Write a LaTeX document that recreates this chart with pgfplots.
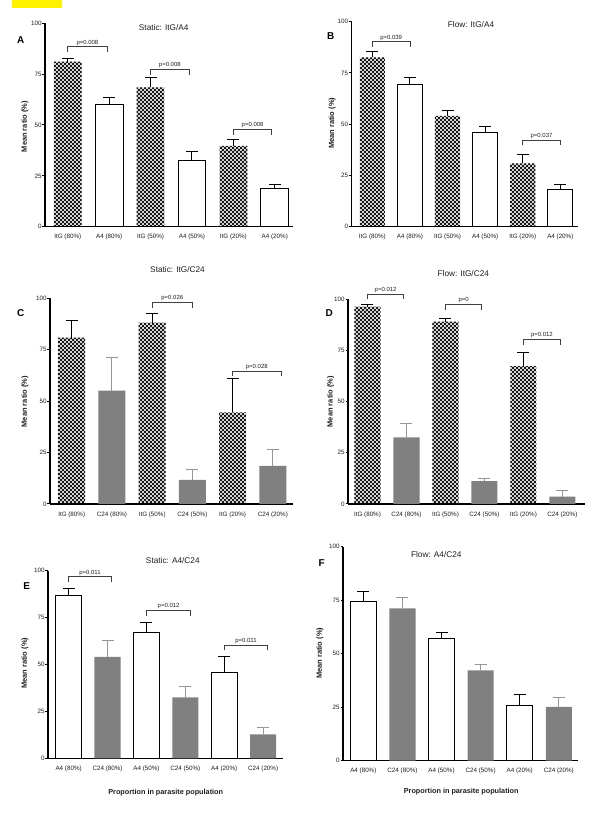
\documentclass[border=0pt]{standalone}
\usepackage{fontspec}
\setmainfont{Liberation Sans}
\usepackage{pgfplots}
\pgfplotsset{compat=1.18}
\usetikzlibrary{patterns}

\pgfdeclarepatternformonly{ckdots}{\pgfqpoint{-1bp}{-1bp}}{\pgfqpoint{5bp}{5bp}}{\pgfqpoint{4bp}{4bp}}{%
 \pgfpathcircle{\pgfqpoint{1bp}{1bp}}{1.3bp}%
 \pgfpathcircle{\pgfqpoint{3bp}{3bp}}{1.3bp}%
 \pgfusepath{fill}}

\definecolor{barg}{RGB}{128,128,128}
\definecolor{errg}{RGB}{150,150,150}
\definecolor{txt}{RGB}{30,30,30}

\pgfplotsset{
 panel/.style={
  scale only axis, clip=false,
  axis x line*=bottom, axis y line*=left,
  axis line style={line width=1.2bp,-},
  ymin=0, ymax=100, ytick={0,25,50,75,100},
  xtick={0,1,2,3,4,5},
  y tick style={line width=1bp, black},
  x tick style={draw=none},
  major tick length=2.5bp, tick align=outside,
  tick label style={font=\fontsize{6.3}{7}\selectfont, text=txt},
  xticklabel style={yshift=-1.5bp},
  yticklabel style={inner sep=0.8bp},
  /pgf/number format/assume math mode=true,
  bar width=0.67,
 },
 pat/.style={ybar, bar shift=0pt, pattern=ckdots, pattern color=black, draw=none,
   error bars/.cd, y dir=plus, y explicit,
   error bar style={line width=1bp, black, solid},
   error mark options={rotate=90, line width=1bp, black, mark size=6bp}},
 wht/.style={ybar, bar shift=0pt, fill=white, draw=black, line width=1bp,
   error bars/.cd, y dir=plus, y explicit,
   error bar style={line width=1bp, black, solid},
   error mark options={rotate=90, line width=1bp, black, mark size=6bp}},
 gry/.style={ybar, bar shift=0pt, fill=barg, draw=none,
   error bars/.cd, y dir=plus, y explicit,
   error bar style={line width=1bp, errg, solid},
   error mark options={rotate=90, line width=1bp, errg, mark size=6bp}},
}
\tikzset{pb/.style={line width=0.8bp, draw=black!75},
 ptxt/.style={font=\fontsize{6}{7}\selectfont, text=txt, anchor=south, inner sep=1.2bp},
 ttl/.style={font=\fontsize{8.3}{9}\selectfont, text=txt},
 lett/.style={font=\fontsize{10}{11}\selectfont\bfseries, text=black},
 ylab/.style={font=\fontsize{7.5}{8}\selectfont\bfseries, text=txt, rotate=90},
 xlab/.style={font=\fontsize{7.3}{8}\selectfont\bfseries, text=txt}}

% \pbr{x1}{x2}{mid}{y}{text}
\newcommand{\pbr}[5]{%
 \draw[pb] ([yshift=-5.5bp]axis cs:#1,#4) -- (axis cs:#1,#4) -- (axis cs:#2,#4) -- ([yshift=-5.5bp]axis cs:#2,#4);
 \node[ptxt] at (axis cs:#3,#4) {#5};}

\begin{document}
\begin{tikzpicture}
\useasboundingbox (0,0) rectangle (600bp,813bp);
\fill[yellow] (12bp,805bp) rectangle (62bp,813bp);

% Panel A
\begin{axis}[panel, at={(45bp,586.3bp)}, width=248bp, height=203.4bp,
  xmin=-0.55, xmax=5.44,
  xticklabels={ItG (80\%), A4 (80\%), ItG (50\%), A4 (50\%), ItG (20\%), A4 (20\%)}]
\addplot[pat] coordinates {(0,81.1) +- (0,1.7) (2,68.5) +- (0,4.8) (4,39.7) +- (0,3.3)};
\addplot[wht] coordinates {(1,60.2) +- (0,3.2) (3,32.3) +- (0,4.9) (5,18.9) +- (0,1.9)};
\pbr{0}{0.95}{0.475}{88.5}{p=0.008}
\pbr{2}{2.93}{2.465}{77.4}{p=0.008}
\pbr{4}{4.93}{4.465}{47.9}{p=0.008}
\end{axis}

% Panel B
\begin{axis}[panel, at={(351.7bp,586.3bp)}, width=226.3bp, height=205bp,
  xmin=-0.55, xmax=5.47,
  xticklabels={ItG (80\%), A4 (80\%), ItG (50\%), A4 (50\%), ItG (20\%), A4 (20\%)}]
\addplot[pat] coordinates {(0,82.6) +- (0,2.8) (2,54) +- (0,2.9) (4,30.9) +- (0,4.1)};
\addplot[wht] coordinates {(1,69.4) +- (0,3.4) (3,46) +- (0,3.1) (5,17.9) +- (0,2.9)};
\pbr{0}{1}{0.5}{90.2}{p=0.039}
\pbr{4}{5}{4.5}{42.3}{p=0.037}
\end{axis}

% Panel C
\begin{axis}[panel, at={(50bp,309bp)}, width=243bp, height=205.7bp,
  xmin=-0.54, xmax=5.5,
  xticklabels={ItG (80\%), C24 (80\%), ItG (50\%), C24 (50\%), ItG (20\%), C24 (20\%)}]
\addplot[pat] coordinates {(0,80.9) +- (0,8.1) (2,88.2) +- (0,4.5) (4,44.6) +- (0,16.5)};
\addplot[gry] coordinates {(1,55.1) +- (0,16.2) (3,11.7) +- (0,5.0) (5,18.5) +- (0,7.8)};
\pbr{2}{3}{2.5}{98}{p=0.026}
\pbr{4}{5.2}{4.6}{64.7}{p=0.028}
\end{axis}

% Panel D
\begin{axis}[panel, at={(348bp,309bp)}, width=237bp, height=204.7bp,
  xmin=-0.5, xmax=5.58,
  xticklabels={ItG (80\%), C24 (80\%), ItG (50\%), C24 (50\%), ItG (20\%), C24 (20\%)}]
\addplot[pat] coordinates {(0,96.4) +- (0,1.1) (2,89.1) +- (0,1.6) (4,67.4) +- (0,6.7)};
\addplot[gry] coordinates {(1,32.6) +- (0,6.8) (3,11.2) +- (0,1.3) (5,3.6) +- (0,2.8)};
\pbr{0}{0.93}{0.465}{102.6}{p=0.012}
\pbr{2}{2.93}{2.465}{97.5}{p=0}
\pbr{4}{4.95}{4.475}{80.5}{p=0.012}
\end{axis}

% Panel E
\begin{axis}[panel, at={(48bp,54.7bp)}, width=235bp, height=187.6bp,
  xmin=-0.53, xmax=5.51,
  xticklabels={A4 (80\%), C24 (80\%), A4 (50\%), C24 (50\%), A4 (20\%), C24 (20\%)}]
\addplot[wht] coordinates {(0,86.7) +- (0,3.9) (2,67) +- (0,5.6) (4,45.6) +- (0,8.8)};
\addplot[gry] coordinates {(1,54) +- (0,8.9) (3,32.5) +- (0,6.0) (5,12.8) +- (0,3.7)};
\pbr{0}{1.1}{0.55}{96.8}{p=0.011}
\pbr{2}{3.14}{2.57}{78.9}{p=0.012}
\pbr{4}{5.12}{4.56}{60.4}{p=0.011}
\end{axis}

% Panel F
\begin{axis}[panel, at={(343bp,52.3bp)}, width=235bp, height=214bp,
  xmin=-0.52, xmax=5.49,
  xticklabels={A4 (80\%), C24 (80\%), A4 (50\%), C24 (50\%), A4 (20\%), C24 (20\%)}]
\addplot[wht] coordinates {(0,74.6) +- (0,4.4) (2,57.3) +- (0,2.7) (4,25.9) +- (0,5.1)};
\addplot[gry] coordinates {(1,71.2) +- (0,5.1) (3,42.2) +- (0,2.8) (5,25.1) +- (0,4.5)};
\end{axis}

% titles
\node[ttl] at (163.7bp,785bp) {Static: ItG/A4};
\node[ttl] at (471bp,788.7bp) {Flow: ItG/A4};
\node[ttl] at (177.5bp,543.7bp) {Static: ItG/C24};
\node[ttl] at (463.3bp,539bp) {Flow: ItG/C24};
\node[ttl] at (172.8bp,252bp) {Static: A4/C24};
\node[ttl] at (436.3bp,258.7bp) {Flow: A4/C24};
% letters
\node[lett] at (20.7bp,773bp) {A};
\node[lett] at (330.7bp,777bp) {B};
\node[lett] at (20.7bp,499.7bp) {C};
\node[lett] at (329.3bp,499.7bp) {D};
\node[lett] at (26.7bp,227bp) {E};
\node[lett] at (321.7bp,249.7bp) {F};
% y labels
\node[ylab] at (25bp,686.3bp) {Mean ratio (\%)};
\node[ylab] at (332.3bp,689.7bp) {Mean ratio (\%)};
\node[ylab] at (25bp,411.3bp) {Mean ratio (\%)};
\node[ylab] at (330.7bp,411.3bp) {Mean ratio (\%)};
\node[ylab] at (25bp,149.7bp) {Mean ratio (\%)};
\node[ylab] at (320bp,159.7bp) {Mean ratio (\%)};
% x labels
\node[xlab] at (165.7bp,20.3bp) {Proportion in parasite population};
\node[xlab] at (461.2bp,21.3bp) {Proportion in parasite population};
\end{tikzpicture}
\end{document}
